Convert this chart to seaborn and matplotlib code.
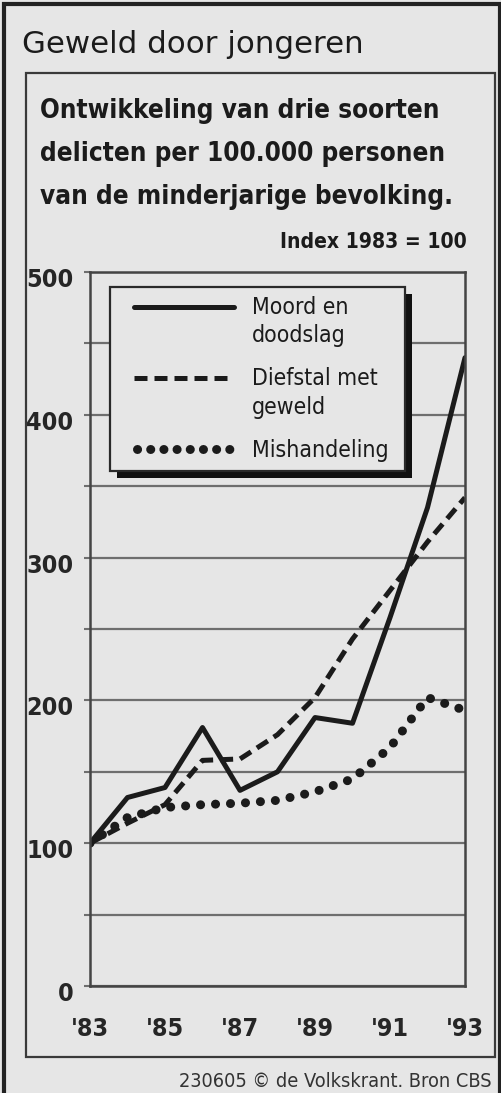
import os
import matplotlib
matplotlib.use("Agg")
import numpy as np
import matplotlib.pyplot as plt
import matplotlib.patheffects as pe
from matplotlib import font_manager
from matplotlib.font_manager import FontProperties
from matplotlib.patches import Rectangle
from matplotlib.lines import Line2D
from matplotlib.legend_handler import HandlerLine2D
from matplotlib.ticker import MultipleLocator
from matplotlib.transforms import ScaledTranslation
import seaborn as sns

# data (index 1983 = 100)
years = [1983, 1984, 1985, 1986, 1987, 1988, 1989, 1990, 1991, 1992, 1993]
moord = [100, 132, 139, 181, 137, 150, 188, 184, 258, 335, 440]
diefstal = [100, 114, 127, 158, 159, 176, 202, 243, 277, 311, 342]
mishandeling = [100, 118, 125, 127, 128, 130, 136, 145, 167, 202, 193]

xticks = [1983, 1985, 1987, 1989, 1991, 1993]
xlabels = ["'83", "'85", "'87", "'89", "'91", "'93"]
series_labels = ["Moord en\ndoodslag", "Diefstal met\ngeweld", "Mishandeling"]

W, H = 502, 1093
BG = '#e6e6e6'
INK = '#1b1b1b'
GRID = '#6e6e6e'

sns.set_theme(style='white')
plt.rcParams['font.family'] = ['DejaVu Sans']
plt.rcParams['text.color'] = INK

# look for a narrow face, the paper uses a condensed grotesk
sysfonts = {os.path.basename(p).lower(): p for p in font_manager.findSystemFonts()}


def pick(files):
    for f in files:
        if f.lower() in sysfonts:
            return sysfonts[f.lower()]
    return None


REG = pick(['LiberationSansNarrow-Regular.ttf', 'NotoSans-Condensed.ttf',
            'DejaVuSansCondensed.ttf', 'RobotoCondensed-Regular.ttf'])
BOLD = pick(['LiberationSansNarrow-Bold.ttf', 'NotoSans-CondensedBold.ttf',
             'DejaVuSansCondensed-Bold.ttf', 'RobotoCondensed-Bold.ttf'])


def fprop(bold, size):
    f = BOLD if bold else REG
    if f:
        p = FontProperties(fname=f)
    else:
        p = FontProperties(family='DejaVu Sans', weight='bold' if bold else 'normal')
    p.set_size(size)
    return p


def fx(x):
    return x / W


def fy(y):
    return 1 - y / H


fig = plt.figure(figsize=(W / 100, H / 100), dpi=100)
fig.patch.set_facecolor(BG)
renderer = fig.canvas.get_renderer()


def fit(t, target):
    w = t.get_window_extent(renderer).width
    t.set_fontsize(t.get_fontsize() * target / w)
    return t.get_fontsize()


# outer frame and inner box
fig.add_artist(Rectangle((fx(4), fy(1200)), fx(496), (1200 - 4) / H,
                         transform=fig.transFigure, fill=False, lw=3, ec='#222222'))
fig.add_artist(Rectangle((fx(26), fy(1057)), fx(469), (1057 - 73) / H,
                         transform=fig.transFigure, fill=False, lw=1.6, ec='#3a3a3a'))

title = fig.text(fx(22), fy(53), 'Geweld door jongeren', fontsize=21,
                 family=['DejaVu Sans'], va='baseline', ha='left', color=INK)
fit(title, 341)

sub = []
for i, line in enumerate(["Ontwikkeling van drie soorten",
                          "delicten per 100.000 personen",
                          "van de minderjarige bevolking."]):
    sub.append(fig.text(fx(40), fy(118 + 43 * i), line, fontproperties=fprop(True, 20),
                        va='baseline', ha='left', color=INK))
s = fit(sub[0], 400)
for t in sub[1:]:
    t.set_fontsize(s)

idx = fig.text(fx(467), fy(248), 'Index 1983 = 100', fontproperties=fprop(True, 14),
               va='baseline', ha='right', color=INK)
fit(idx, 187)
cred = fig.text(fx(492), fy(1087), '230605 \u00a9 de Volkskrant. Bron CBS',
                fontproperties=fprop(False, 12), va='baseline', ha='right', color='#333333')
fit(cred, 314)

ax = fig.add_axes([fx(90), fy(986), (465 - 90) / W, (986 - 272) / H])
ax.set_facecolor(BG)

sns.lineplot(x=years, y=moord, ax=ax, color=INK, lw=3.6, linestyle='-')
sns.lineplot(x=years, y=diefstal, ax=ax, color=INK, lw=3.6,
             linestyle=(0, (2.6, 1.4)))
sns.lineplot(x=years, y=mishandeling, ax=ax, color=INK, lw=6.5,
             linestyle=(0, (0.01, 1.65)), dash_capstyle='round')

ax.set_xlim(1983, 1993)
ax.set_ylim(0, 500)
ax.set_xticks(xticks)
ax.set_xticklabels(xlabels)
ax.yaxis.set_major_locator(MultipleLocator(100))
ax.yaxis.set_minor_locator(MultipleLocator(50))
ax.grid(True, axis='y', which='both', color=GRID, lw=1.6)
ax.set_axisbelow(True)
ax.tick_params(axis='y', which='both', direction='out', length=4, width=1.5,
               color=GRID, left=True, pad=8)
ax.tick_params(axis='x', length=0, pad=22)
for sp in ax.spines.values():
    sp.set_visible(True)
    sp.set_color('#444444')
    sp.set_linewidth(1.8)
ax.set_xlabel('')
ax.set_ylabel('')

# tick labels: size so that "500" is close to 37 px wide, but keep them tall
probe = fig.text(0, 0, '500', fontproperties=fprop(True, 19))
tick_fs = fit(probe, 40)
probe.remove()
tick_fs = min(max(tick_fs, 18), 21)
shift = ScaledTranslation(0, -4 / 72, fig.dpi_scale_trans)
for lab in ax.get_yticklabels():
    lab.set_fontproperties(fprop(True, tick_fs))
    lab.set_transform(lab.get_transform() + shift)
for lab in ax.get_xticklabels():
    lab.set_fontproperties(fprop(True, tick_fs))


class ShiftHandler(HandlerLine2D):
    def __init__(self, dy=0.0, **kw):
        super().__init__(**kw)
        self.dy = dy

    def create_artists(self, legend, orig_handle, xdescent, ydescent, width, height,
                       fontsize, trans):
        arts = super().create_artists(legend, orig_handle, xdescent, ydescent, width,
                                      height, fontsize, trans)
        for a in arts:
            a.set_ydata(np.asarray(a.get_ydata(), float) + self.dy * fontsize)
        return arts


LEG_FS = 16.5 if REG else 15


def em(px):
    return px * 0.72 / LEG_FS


handles = [
    Line2D([], [], color=INK, lw=3.6),
    Line2D([], [], color=INK, lw=3.6, linestyle=(0, (2.6, 1.4))),
    Line2D([], [], color=INK, lw=6.5, linestyle=(0, (0.01, 1.45)), dash_capstyle='round'),
]
hmap = {handles[0]: ShiftHandler(0.68, xpad=em(15)),
        handles[1]: ShiftHandler(0.68, xpad=em(15)),
        handles[2]: ShiftHandler(0.0, xpad=em(18))}
leg = ax.legend(handles, series_labels, loc='upper left', mode='expand',
                bbox_to_anchor=(0.0533, 0.7185, 0.787, 0.2605),
                prop=fprop(False, LEG_FS), frameon=True, fancybox=False,
                handlelength=em(115), handletextpad=em(18), labelspacing=em(20),
                borderpad=em(9), borderaxespad=0, handler_map=hmap)
for t in leg.get_texts():
    t.set_linespacing(1.3)
frame = leg.get_frame()
frame.set_facecolor(BG)
frame.set_edgecolor('#2a2a2a')
frame.set_linewidth(1.6)
frame.set_alpha(1)
frame.set_path_effects([pe.SimplePatchShadow(offset=(5, -5), shadow_rgbFace='#111111', alpha=1),
                        pe.Normal()])

fig.savefig('out.png', dpi=100, facecolor=BG)
